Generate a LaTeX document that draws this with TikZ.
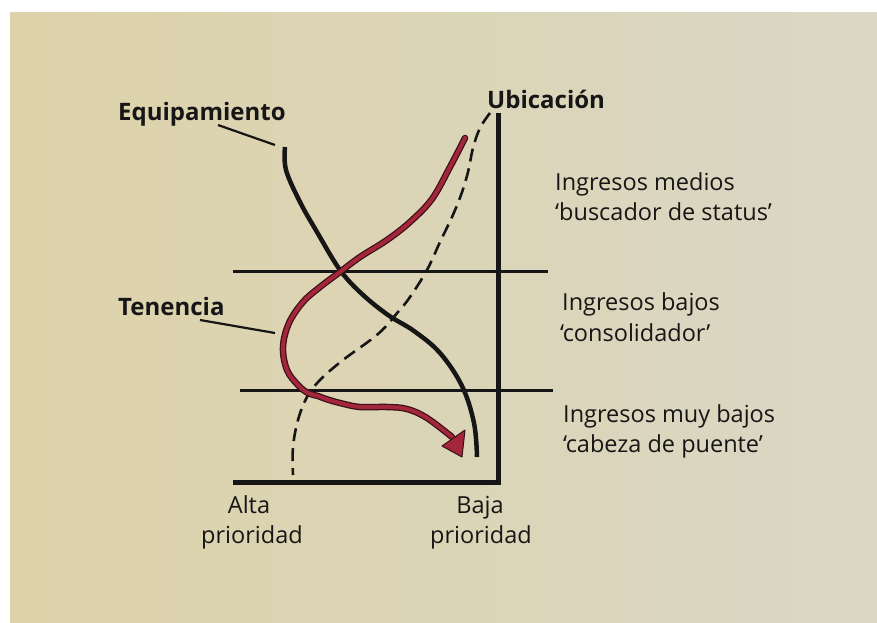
\documentclass[tikz,border=0pt]{standalone}
\usepackage{fontspec}
\setmainfont{Open Sans}
\usetikzlibrary{arrows.meta}
\definecolor{paper}{HTML}{DDD2A9}
\definecolor{paperR}{HTML}{DAD7C5}
\definecolor{ink}{HTML}{161616}
\definecolor{wine}{HTML}{A3263B}
\definecolor{wineD}{HTML}{3A1018}
\begin{document}
\begin{tikzpicture}[x=1pt,y=-1pt,
  lbl/.style={font=\fontsize{23.5}{26}\selectfont, text=ink, inner sep=0pt},
  blbl/.style={font=\fontsize{24}{26}\selectfont\bfseries, text=ink, inner sep=0pt},
  axisline/.style={draw=ink, line width=5pt, line join=miter},
  gridline/.style={draw=ink, line width=3pt},
  curve/.style={draw=ink, line width=4.5pt},
  dcurve/.style={draw=ink, line width=2.6pt, dash pattern=on 13pt off 7pt},
  leader/.style={draw=ink, line width=2.2pt},
  redout/.style={draw=wineD, line width=6.5pt, line cap=round},
  redin/.style={draw=wine, line width=4pt, line cap=round}]
\useasboundingbox (0,0) rectangle (877,622);
\fill[white] (0,0) rectangle (877,622);
\shade[left color=paper, right color=paperR] (10,12) rectangle (877,622);

% axes and bands
\draw[axisline] (498,113) -- (498,482) -- (233,482);
\draw[gridline] (233,271) -- (548,271);
\draw[gridline] (240,390) -- (553,390);

% Equipamiento curve
\draw[curve] plot[smooth, tension=0.6] coordinates {(285,147) (286,170) (300,202) (317,232) (340,270) (362,294) (388,315) (414,331) (440,353) (462,386) (474,423) (477,457)};

% Ubicacion dashed curve
\draw[dcurve] plot[smooth, tension=0.6] coordinates {(490,113) (480,128) (473,148) (468,172) (461,195) (452,217) (440,242) (427,270) (410,297) (398,312) (378,334) (343,360) (320,380) (307,397) (298,420) (293,447) (293,475)};

% Tenencia red curve
\def\redpath{plot[smooth, tension=0.6] coordinates {(465,138) (450,167) (432,199) (410,222) (387,240) (360,257) (340,272) (320,287) (303,302) (289,323) (283,347) (287,370) (298,385) (308,393) (318,396) (326,399) (340,403) (360,407) (387,407) (407,409) (427,418) (452,437)}}
\draw[redout] \redpath;
\draw[redin] \redpath;
\filldraw[fill=wine, draw=wineD, line width=1pt, line join=round] (442,446) -- (465,430) -- (462,457) -- cycle;

% labels
\node[blbl, anchor=base west] (eq) at (118,120) {Equipamiento};
\node[blbl, anchor=base west] (ub) at (487,108) {Ubicación};
\node[blbl, anchor=base west] (te) at (118,315) {Tenencia};
\coordinate (eqA) at (218,125);
\coordinate (eqB) at (275,145);
\coordinate (teA) at (200,320);
\coordinate (teB) at (275,333);
\draw[leader] (eqA) -- (eqB);
\draw[leader] (teA) -- (teB);

\node[lbl, anchor=base west] (m1) at (555,190) {Ingresos medios};
\node[lbl, anchor=base west] (m2) at (555,220) {‘buscador de status’};
\node[lbl, anchor=base west] (b1) at (562,310) {Ingresos bajos};
\node[lbl, anchor=base west] (b2) at (560,341) {‘consolidador’};
\node[lbl, anchor=base west] (v1) at (563,422) {Ingresos muy bajos};
\node[lbl, anchor=base west] (v2) at (563,452) {‘cabeza de puente’};

\node[lbl, anchor=base] (al) at (249,513) {Alta};
\node[lbl, anchor=base] (ap) at (252,543) {prioridad};
\node[lbl, anchor=base] (ba) at (480,513) {Baja};
\node[lbl, anchor=base] (bp) at (481,543) {prioridad};
\end{tikzpicture}
\end{document}
